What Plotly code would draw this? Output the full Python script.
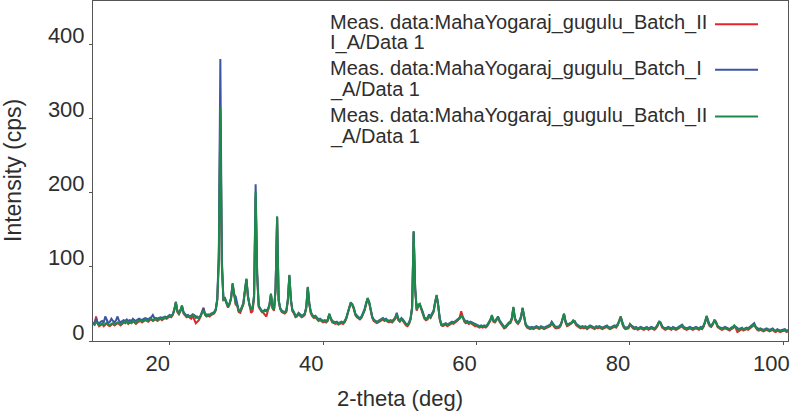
import plotly.graph_objects as go

# ---- data (2-theta scan, start 10 deg, step 0.2 deg) ----
scan_start = 10.0
scan_step = 0.2

green_vals = [
    24, 22, 26, 23, 21, 22, 24, 21, 23, 25,
    22, 21, 23, 24, 22, 23, 25, 24, 22, 24,
    26, 25, 27, 24, 26, 25, 27, 26, 24, 26,
    27, 28, 26, 27, 29, 28, 27, 29, 30, 28,
    29, 30, 28, 30, 31, 29, 30, 32, 31, 33,
    34, 33, 36, 42, 53, 40, 37, 41, 48, 38,
    35, 33, 34, 32, 33, 35, 34, 31, 32, 30,
    33, 37, 41, 36, 34, 35, 34, 36, 37, 38,
    42, 56, 110, 315, 105, 56, 57, 52, 46, 50,
    58, 78, 60, 50, 48, 40, 40, 44, 50, 68,
    84, 60, 48, 43, 44, 60, 201, 90, 47, 43,
    40, 39, 41, 40, 42, 48, 64, 45, 42, 70,
    168, 55, 44, 40, 39, 38, 40, 55, 89, 55,
    41, 38, 33, 34, 37, 35, 33, 34, 36, 45,
    73, 50, 38, 34, 32, 33, 30, 28, 29, 27,
    26, 27, 26, 28, 37, 30, 26, 25, 24, 25,
    23, 24, 25, 24, 26, 30, 36, 45, 52, 49,
    44, 36, 33, 31, 30, 32, 37, 42, 50, 58,
    52, 40, 32, 28, 26, 25, 26, 27, 29, 30,
    28, 29, 27, 26, 27, 26, 28, 31, 36, 29,
    27, 30, 28, 24, 22, 21, 24, 30, 45, 148,
    70, 42, 48, 50, 44, 38, 31, 29, 30, 34,
    32, 36, 40, 52, 62, 48, 30, 22, 21, 22,
    23, 21, 22, 24, 25, 24, 26, 27, 29, 30,
    35, 31, 27, 25, 26, 24, 25, 24, 22, 21,
    21, 20, 19, 20, 19, 20, 19, 21, 24, 28,
    35, 27, 26, 30, 32, 27, 24, 22, 18, 19,
    22, 24, 25, 30, 46, 30, 26, 24, 27, 32,
    45, 30, 22, 19, 18, 17, 18, 17, 18, 19,
    18, 17, 19, 18, 17, 18, 19, 20, 21, 25,
    21, 19, 18, 18, 19, 22, 28, 37, 26, 21,
    22, 23, 25, 28, 26, 22, 20, 19, 18, 19,
    18, 19, 17, 18, 20, 19, 18, 17, 19, 18,
    19, 18, 17, 18, 19, 20, 18, 17, 18, 19,
    20, 19, 22, 27, 33, 24, 19, 17, 17, 18,
    23, 20, 18, 17, 18, 16, 17, 18, 17, 16,
    17, 18, 16, 17, 18, 17, 16, 18, 21, 27,
    24, 19, 17, 16, 17, 18, 17, 16, 18, 17,
    16, 17, 18, 19, 21, 18, 17, 16, 17, 18,
    17, 16, 17, 18, 17, 16, 18, 17, 20, 26,
    34, 25, 21, 20, 23, 27, 25, 20, 18, 17,
    16, 17, 18, 17, 16, 15, 17, 18, 21, 18,
    16, 15, 16, 17, 15, 16, 17, 16, 18, 20,
    21, 22, 18, 16, 15, 16, 15, 14, 15, 16,
    15, 14, 15, 16, 14, 13, 15, 14, 13, 14,
    14, 15, 13, 14,
]

blue_vals = [
    25, 24, 30, 25, 23, 26, 27, 25, 33, 27,
    24, 26, 30, 27, 25, 28, 33, 27, 25, 27,
    28, 27, 29, 27, 28, 27, 30, 28, 27, 29,
    30, 29, 28, 30, 31, 30, 29, 31, 32, 35,
    31, 31, 30, 31, 32, 31, 32, 33, 32, 34,
    35, 34, 36, 43, 52, 41, 38, 42, 47, 39,
    36, 34, 35, 33, 34, 36, 35, 33, 33, 31,
    34, 38, 44, 37, 35, 36, 35, 37, 38, 39,
    43, 57, 120, 380, 110, 57, 58, 53, 47, 51,
    58, 76, 62, 60, 50, 41, 41, 45, 51, 68,
    83, 61, 49, 44, 45, 62, 211, 92, 48, 44,
    41, 40, 42, 41, 43, 49, 63, 46, 43, 71,
    167, 56, 45, 41, 40, 39, 41, 56, 88, 56,
    42, 39, 34, 35, 38, 36, 34, 35, 37, 46,
    72, 51, 39, 35, 33, 34, 31, 29, 30, 28,
    27, 28, 27, 29, 36, 31, 27, 26, 25, 26,
    24, 25, 26, 25, 27, 31, 37, 46, 51, 50,
    45, 37, 34, 32, 31, 33, 38, 43, 51, 57,
    53, 41, 33, 29, 27, 26, 27, 28, 30, 31,
    29, 30, 28, 27, 28, 27, 29, 32, 38, 30,
    28, 31, 29, 25, 23, 22, 25, 31, 46, 147,
    71, 43, 49, 49, 45, 39, 32, 30, 31, 36,
    33, 37, 41, 53, 61, 49, 31, 23, 22, 23,
    24, 22, 23, 25, 26, 25, 27, 28, 30, 31,
    34, 32, 28, 26, 27, 25, 26, 25, 23, 22,
    22, 21, 20, 21, 20, 21, 20, 22, 25, 29,
    34, 28, 27, 31, 33, 28, 25, 23, 19, 20,
    23, 25, 26, 31, 45, 31, 27, 25, 28, 33,
    44, 31, 23, 20, 19, 18, 19, 18, 19, 20,
    19, 18, 20, 19, 18, 19, 20, 21, 22, 26,
    22, 20, 19, 19, 20, 23, 29, 36, 27, 22,
    23, 24, 26, 27, 27, 23, 21, 20, 19, 20,
    19, 20, 18, 19, 21, 20, 19, 18, 20, 19,
    20, 19, 18, 19, 20, 21, 19, 18, 19, 20,
    21, 20, 23, 26, 32, 25, 20, 18, 18, 19,
    22, 21, 19, 18, 19, 17, 18, 19, 18, 17,
    18, 19, 17, 18, 19, 18, 17, 19, 22, 26,
    25, 20, 18, 17, 18, 19, 18, 17, 19, 18,
    17, 18, 19, 20, 22, 19, 18, 17, 18, 19,
    18, 17, 18, 19, 18, 17, 19, 18, 21, 25,
    33, 26, 22, 21, 24, 26, 26, 21, 19, 18,
    17, 18, 19, 18, 17, 16, 18, 19, 20, 19,
    17, 16, 17, 18, 16, 17, 18, 17, 19, 21,
    22, 24, 19, 17, 16, 17, 16, 15, 16, 17,
    16, 15, 16, 17, 15, 14, 16, 15, 14, 15,
    15, 16, 14, 15,
]

red_vals = [
    23, 22, 33, 24, 20, 21, 23, 20, 22, 24,
    21, 20, 22, 23, 21, 22, 24, 23, 21, 23,
    25, 24, 26, 23, 25, 24, 26, 25, 23, 25,
    26, 27, 25, 26, 28, 27, 26, 28, 29, 27,
    28, 29, 27, 29, 30, 28, 29, 31, 30, 32,
    33, 32, 35, 41, 52, 39, 36, 40, 47, 37,
    34, 32, 33, 31, 30, 34, 29, 24, 26, 28,
    32, 38, 45, 35, 33, 34, 33, 35, 36, 37,
    41, 55, 105, 300, 100, 55, 56, 51, 45, 49,
    57, 77, 59, 49, 47, 39, 38, 43, 49, 67,
    83, 59, 47, 38, 40, 58, 195, 88, 46, 42,
    39, 38, 36, 33, 41, 47, 63, 44, 41, 69,
    166, 54, 43, 39, 38, 37, 39, 54, 88, 54,
    40, 37, 32, 33, 36, 34, 32, 33, 35, 44,
    72, 49, 37, 33, 31, 32, 29, 27, 28, 26,
    25, 26, 25, 27, 36, 29, 25, 24, 23, 24,
    22, 23, 24, 23, 25, 29, 35, 44, 51, 48,
    43, 35, 32, 30, 29, 31, 36, 41, 49, 57,
    51, 39, 31, 27, 25, 24, 25, 26, 28, 29,
    27, 28, 26, 25, 26, 25, 27, 30, 35, 28,
    26, 29, 27, 23, 21, 20, 23, 29, 44, 146,
    69, 41, 47, 49, 43, 37, 30, 28, 29, 33,
    31, 35, 39, 51, 61, 47, 29, 21, 20, 21,
    22, 20, 21, 23, 24, 23, 25, 26, 28, 32,
    40, 33, 26, 24, 25, 23, 24, 23, 21, 20,
    20, 19, 18, 19, 18, 19, 18, 20, 23, 27,
    34, 26, 25, 29, 31, 26, 23, 21, 17, 18,
    21, 23, 24, 29, 45, 29, 25, 23, 26, 31,
    44, 29, 21, 18, 17, 16, 17, 16, 17, 18,
    17, 16, 18, 17, 16, 17, 18, 19, 20, 24,
    20, 18, 17, 17, 18, 21, 27, 36, 25, 20,
    21, 22, 24, 27, 25, 21, 19, 18, 17, 18,
    17, 18, 16, 17, 19, 18, 17, 16, 18, 17,
    18, 17, 16, 17, 18, 19, 17, 16, 17, 18,
    19, 18, 21, 28, 33, 23, 18, 16, 16, 17,
    22, 19, 17, 16, 17, 15, 16, 17, 16, 15,
    16, 17, 15, 16, 17, 16, 15, 17, 20, 26,
    23, 18, 16, 15, 16, 17, 16, 15, 17, 16,
    15, 16, 17, 18, 20, 17, 16, 15, 16, 17,
    16, 15, 16, 17, 16, 15, 17, 16, 19, 25,
    33, 24, 20, 19, 22, 29, 26, 19, 17, 16,
    15, 16, 17, 16, 15, 14, 16, 17, 20, 17,
    12, 13, 15, 16, 14, 15, 16, 15, 17, 19,
    20, 21, 17, 15, 14, 15, 14, 13, 14, 15,
    14, 13, 14, 15, 13, 12, 14, 13, 12, 13,
    13, 14, 12, 13,
]

series_names = [
    "Meas. data:MahaYogaraj_gugulu_Batch_III_A/Data 1",
    "Meas. data:MahaYogaraj_gugulu_Batch_I_A/Data 1",
    "Meas. data:MahaYogaraj_gugulu_Batch_II_A/Data 1",
]
legend_lines = [
    ["Meas. data:MahaYogaraj_gugulu_Batch_II", "I_A/Data 1"],
    ["Meas. data:MahaYogaraj_gugulu_Batch_I", "_A/Data 1"],
    ["Meas. data:MahaYogaraj_gugulu_Batch_II", "_A/Data 1"],
]
series_values = [red_vals, blue_vals, green_vals]
series_colors = ["#e5242c", "#3c55a5", "#1d8a4c"]

x_ticks = [20, 40, 60, 80, 100]
y_ticks = [0, 100, 200, 300, 400]
x_title = "2-theta (deg)"
y_title = "Intensity (cps)"

FONT = "Arial, Liberation Sans, Helvetica, sans-serif"
TXT = "#2e2e2e"

# plot-area geometry in pixels
L, R, T, B = 93, 2, 1, 73
PW, PH = 790 - L - R, 414 - T - B

fig = go.Figure()
for name, vals, col in zip(series_names, series_values, series_colors):
    fig.add_trace(go.Scatter(
        x0=scan_start, dx=scan_step, y=vals, mode="lines", name=name,
        line=dict(color=col, width=2), showlegend=False,
    ))

# custom legend (text left, line sample right)
line_y_px = [[22.7, 42.7], [68.3, 89.3], [115.0, 136.7]]
for i, (lines, col) in enumerate(zip(legend_lines, series_colors)):
    for j, txt in enumerate(lines):
        fig.add_annotation(
            xref="paper", yref="paper", x=(328 - L) / PW,
            y=(T + PH - line_y_px[i][j]) / PH,
            xanchor="left", yanchor="middle", text=txt, showarrow=False,
            font=dict(family=FONT, size=20, color=TXT),
        )
    ly = (T + PH - line_y_px[i][0] - 1.5) / PH
    fig.add_shape(type="line", xref="paper", yref="paper",
                  x0=(715 - L) / PW, x1=(758 - L) / PW, y0=ly, y1=ly,
                  line=dict(color=col, width=2))

# axis titles
fig.add_annotation(xref="paper", yref="paper", x=(400 - L) / PW,
                   y=(T + PH - 398) / PH, text=x_title, showarrow=False,
                   xanchor="center", yanchor="middle",
                   font=dict(family=FONT, size=22, color=TXT))
fig.add_annotation(xref="paper", yref="paper", x=(13 - L) / PW, y=0.5,
                   text=y_title, showarrow=False, textangle=-90,
                   xanchor="center", yanchor="middle",
                   font=dict(family=FONT, size=23, color=TXT))

fig.update_layout(
    width=790, height=414,
    margin=dict(l=L, r=R, t=T, b=B, autoexpand=False),
    paper_bgcolor="white", plot_bgcolor="white",
    font=dict(family=FONT, color=TXT),
    hovermode=False,
    xaxis=dict(
        range=[10, 100.6], tickvals=x_ticks, ticks="outside", ticklen=3,
        tickcolor="#555", showline=True, linecolor="#555", linewidth=1,
        mirror=True, showgrid=False, zeroline=False, automargin=False,
        tickfont=dict(size=22, color=TXT), ticklabelshift=-12,
        ticklabeloverflow="allow",
    ),
    yaxis=dict(
        range=[0, 458], tickvals=y_ticks, ticks="outside", ticklen=3,
        tickcolor="#555", showline=True, linecolor="#555", linewidth=1,
        mirror=True, showgrid=False, zeroline=False, automargin=False,
        tickfont=dict(size=22, color=TXT), ticklabelshift=-9,
        ticklabeloverflow="allow",
    ),
)

fig.write_html("out.html", config={"displayModeBar": False},
               post_script="document.body.style.margin='0';"
                           "document.body.style.overflow='hidden';")
